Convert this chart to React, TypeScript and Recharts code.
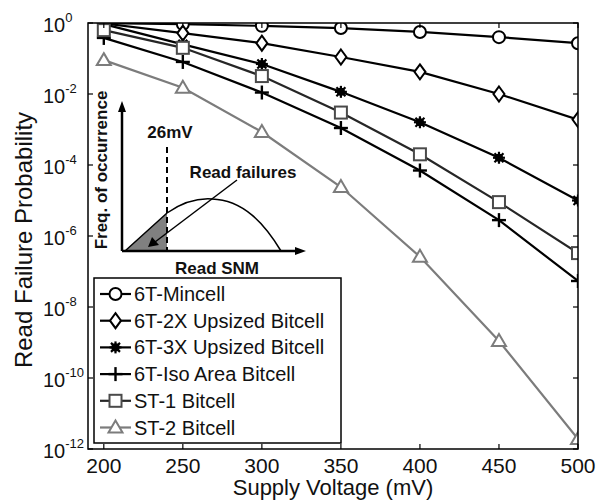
import React from 'react';
import { LineChart, Line, XAxis, YAxis } from 'recharts';

const voltages = [200, 250, 300, 350, 400, 450, 500];
const mincell = [0.99, 0.93, 0.83, 0.72, 0.56, 0.4, 0.27];
const upsized2x = [0.97, 0.52, 0.27, 0.11, 0.042, 0.01, 0.0019];
const upsized3x = [0.93, 0.25, 0.07, 0.0115, 0.0016, 0.00016, 0.00001];
const isoArea = [0.38, 0.08, 0.011, 0.0011, 0.00007, 0.0000028, 0.000000054];
const st1 = [0.63, 0.2, 0.032, 0.003, 0.0002, 0.000009, 0.00000033];
const st2 = [0.09, 0.015, 0.00085, 0.000024, 0.00000026, 0.0000000011, 1.9e-12];

const xTicks = [200, 250, 300, 350, 400, 450, 500];
const yTicks = [1e-12, 1e-10, 1e-8, 1e-6, 1e-4, 1e-2, 1];

const seriesList = [
  { key: 'mincell', name: '6T-Mincell', values: mincell, shape: 'circle', line: '#000', mark: '#000' },
  { key: 'up2x', name: '6T-2X Upsized Bitcell', values: upsized2x, shape: 'diamond', line: '#000', mark: '#000' },
  { key: 'up3x', name: '6T-3X Upsized Bitcell', values: upsized3x, shape: 'star', line: '#000', mark: '#000' },
  { key: 'iso', name: '6T-Iso Area Bitcell', values: isoArea, shape: 'plus', line: '#000', mark: '#000' },
  { key: 'st1', name: 'ST-1 Bitcell', values: st1, shape: 'square', line: '#262626', mark: '#4a4a4a' },
  { key: 'st2', name: 'ST-2 Bitcell', values: st2, shape: 'triangle', line: '#7c7c7c', mark: '#7c7c7c' },
];

const data = voltages.map((v, i) => {
  const row: Record<string, number> = { v };
  seriesList.forEach(s => { row[s.key] = s.values[i]; });
  return row;
});

const FONT = '"Liberation Sans", Arial, Helvetica, sans-serif';
const PL = 88, PR = 578, PT = 23, PB = 449;

const Marker = ({ cx, cy, shape, color }: { cx: number; cy: number; shape: string; color: string }) => {
  if (cx == null || cy == null) return null;
  const sw = 2;
  switch (shape) {
    case 'circle':
      return <circle cx={cx} cy={cy} r={6} fill="#fff" stroke={color} strokeWidth={sw} />;
    case 'diamond':
      return <polygon points={`${cx},${cy - 7.5} ${cx + 5.5},${cy} ${cx},${cy + 7.5} ${cx - 5.5},${cy}`} fill="#fff" stroke={color} strokeWidth={sw} />;
    case 'star':
      return (
        <g stroke={color} strokeWidth={2.2}>
          <line x1={cx - 6} y1={cy} x2={cx + 6} y2={cy} />
          <line x1={cx} y1={cy - 6} x2={cx} y2={cy + 6} />
          <line x1={cx - 4.5} y1={cy - 4.5} x2={cx + 4.5} y2={cy + 4.5} />
          <line x1={cx - 4.5} y1={cy + 4.5} x2={cx + 4.5} y2={cy - 4.5} />
          <circle cx={cx} cy={cy} r={3} fill={color} />
        </g>
      );
    case 'plus':
      return (
        <g stroke={color} strokeWidth={2.4}>
          <line x1={cx - 7} y1={cy} x2={cx + 7} y2={cy} />
          <line x1={cx} y1={cy - 7} x2={cx} y2={cy + 7} />
        </g>
      );
    case 'square':
      return <rect x={cx - 6} y={cy - 6} width={12} height={12} fill="#fff" stroke={color} strokeWidth={sw} />;
    case 'triangle':
      return <polygon points={`${cx},${cy - 7} ${cx + 7},${cy + 5} ${cx - 7},${cy + 5}`} fill="#fff" stroke={color} strokeWidth={sw} />;
    default:
      return null;
  }
};

const YTick = (props: any) => {
  const { y, payload } = props;
  const exp = Math.round(Math.log10(payload.value));
  return (
    <g>
      <line x1={PL} x2={PL + 5} y1={y} y2={y} stroke="#000" strokeWidth={1.2} />
      <line x1={PR} x2={PR - 5} y1={y} y2={y} stroke="#000" strokeWidth={1.2} />
      <text x={43} y={y + 9} fontSize={20} fontFamily={FONT} fill="#111">
        10<tspan dy={-10} fontSize={13}>{exp}</tspan>
      </text>
    </g>
  );
};

const XTick = (props: any) => {
  const { x, payload } = props;
  return (
    <g>
      <line x1={x} x2={x} y1={PB} y2={PB - 5} stroke="#000" strokeWidth={1.2} />
      <line x1={x} x2={x} y1={PT} y2={PT + 5} stroke="#000" strokeWidth={1.2} />
      <text x={x} y={473} textAnchor="middle" fontSize={21} fontFamily={FONT} fill="#111">
        {payload.value}
      </text>
    </g>
  );
};

const Overlay = () => {
  const rowY0 = 294;
  const rowStep = 26.7;
  return (
    <svg width={600} height={502} style={{ position: 'absolute', left: 0, top: 0, pointerEvents: 'none' }}>
      <rect x={PL} y={PT} width={PR - PL} height={PB - PT} fill="none" stroke="#000" strokeWidth={1.5} />

      {/* axis titles */}
      <text transform="translate(32,240) rotate(-90)" textAnchor="middle" fontSize={24} fontFamily={FONT} fill="#111">
        Read Failure Probability
      </text>
      <text x={333} y={495} textAnchor="middle" fontSize={22} fontFamily={FONT} fill="#111">
        Supply Voltage (mV)
      </text>

      {/* inset: read SNM distribution */}
      <path d="M125,251 Q146,232 167,213 L167,251 Z" fill="#808080" />
      <path d="M125,251 Q146,232 167,213 C183,202 198,198 212,199 C243,200 264,223 281,251" fill="none" stroke="#000" strokeWidth={1.5} />
      <line x1={122} y1={251} x2={122} y2={110} stroke="#000" strokeWidth={2.5} />
      <polygon points="122,101 118,112 126,112" fill="#000" />
      <line x1={122} y1={251} x2={296} y2={251} stroke="#000" strokeWidth={2.5} />
      <polygon points="306,251 295,247 295,255" fill="#000" />
      <line x1={167} y1={147} x2={167} y2={251} stroke="#000" strokeWidth={2} strokeDasharray="6,4" />
      <line x1={237} y1={180} x2={155} y2={242} stroke="#000" strokeWidth={1.5} />
      <polygon points="148,247 152,237 159,245" fill="#000" />
      <text x={170} y={138} textAnchor="middle" fontSize={17} fontWeight="bold" fontFamily={FONT} fill="#111">26mV</text>
      <text x={243} y={178} textAnchor="middle" fontSize={17} fontWeight="bold" fontFamily={FONT} fill="#111">Read failures</text>
      <text x={217} y={274} textAnchor="middle" fontSize={17} fontWeight="bold" fontFamily={FONT} fill="#111">Read SNM</text>
      <text transform="translate(107,170) rotate(-90)" textAnchor="middle" fontSize={17} fontWeight="bold" fontFamily={FONT} fill="#111">
        Freq. of occurrence
      </text>

      {/* legend */}
      <rect x={94} y={278} width={247} height={165} fill="#fff" stroke="#000" strokeWidth={1.5} />
      {seriesList.map((s, i) => {
        const cy = rowY0 + i * rowStep;
        return (
          <g key={s.key}>
            <line x1={100} x2={131} y1={cy} y2={cy} stroke={s.line} strokeWidth={2.2} />
            <Marker cx={115.5} cy={cy} shape={s.shape} color={s.mark} />
            <text x={134} y={cy + 7} fontSize={20} fontFamily={FONT} fill="#111">{s.name}</text>
          </g>
        );
      })}
    </svg>
  );
};

export default function App() {
  return (
    <div style={{ position: 'absolute', left: 0, top: 0, width: 600, height: 502, background: '#fff' }}>
      <LineChart width={600} height={502} data={data} margin={{ top: PT, right: 600 - PR, bottom: 0, left: 0 }}>
        <XAxis
          dataKey="v"
          type="number"
          domain={[190, 500]}
          ticks={xTicks}
          axisLine={false}
          tickLine={false}
          tickSize={0}
          height={502 - PB}
          tick={<XTick />}
          allowDataOverflow
        />
        <YAxis
          scale="log"
          type="number"
          domain={[1e-12, 1]}
          ticks={yTicks}
          axisLine={false}
          tickLine={false}
          tickSize={0}
          width={PL}
          tick={<YTick />}
          allowDataOverflow
        />
        {seriesList.map(s => (
          <Line
            key={s.key}
            dataKey={s.key}
            name={s.name}
            stroke={s.line}
            strokeWidth={2.2}
            isAnimationActive={false}
            dot={(p: any) => <Marker key={`${s.key}-${p.index}`} cx={p.cx} cy={p.cy} shape={s.shape} color={s.mark} />}
            activeDot={false}
          />
        ))}
      </LineChart>
      <Overlay />
    </div>
  );
}
